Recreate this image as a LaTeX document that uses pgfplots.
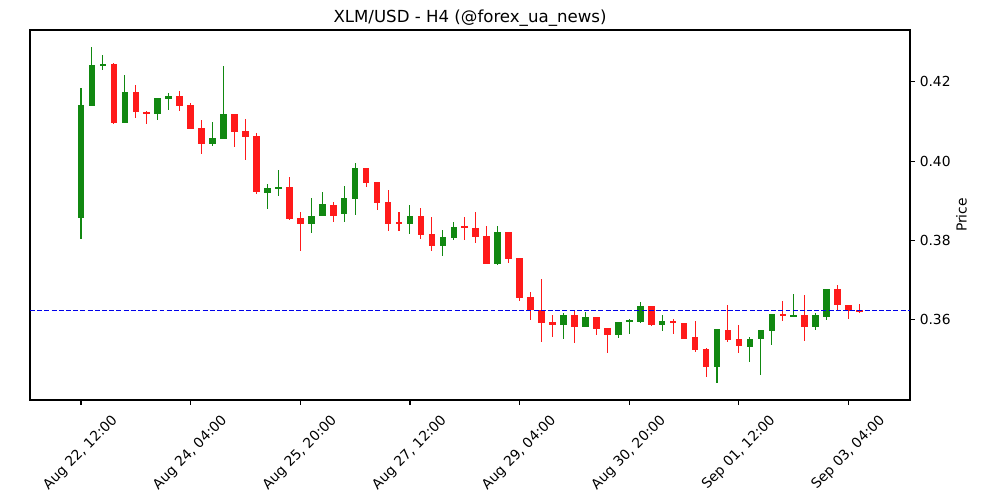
\documentclass[border=0pt]{standalone}
\usepackage{fontspec}
\setmainfont{DejaVu Sans}
\usepackage{pgfplots}
\pgfplotsset{compat=1.18}
\usepackage{pgfplotstable}
\definecolor{upc}{RGB}{17,136,17}
\definecolor{dnc}{RGB}{255,26,26}
\definecolor{lastc}{RGB}{0,0,235}

\pgfplotstableread{
X O H L C
0 0.3856 0.4184 0.3803 0.4142
1 0.4140 0.4287 0.4140 0.4243
2 0.4241 0.4267 0.4229 0.4245
4 0.4097 0.4217 0.4097 0.4175
7 0.4118 0.4160 0.4104 0.4160
8 0.4158 0.4172 0.4129 0.4165
12 0.4044 0.4098 0.4038 0.4059
13 0.4057 0.4240 0.4057 0.4119
17 0.3921 0.3942 0.3879 0.3933
18 0.3932 0.3978 0.3913 0.3934
21 0.3841 0.3907 0.3819 0.3862
22 0.3861 0.3922 0.3861 0.3892
24 0.3866 0.3937 0.3846 0.3908
25 0.3906 0.3996 0.3864 0.3983
30 0.3843 0.3889 0.3817 0.3862
33 0.3787 0.3826 0.3762 0.3809
34 0.3807 0.3847 0.3801 0.3834
38 0.3742 0.3836 0.3739 0.3822
44 0.3588 0.3617 0.3551 0.3612
46 0.3581 0.3620 0.3581 0.3607
49 0.3563 0.3595 0.3554 0.3595
50 0.3594 0.3602 0.3564 0.3598
51 0.3595 0.3645 0.3593 0.3635
53 0.3588 0.3612 0.3572 0.3597
58 0.3480 0.3577 0.3440 0.3577
61 0.3531 0.3556 0.3494 0.3553
62 0.3553 0.3575 0.3461 0.3575
63 0.3571 0.3615 0.3537 0.3615
65 0.3608 0.3665 0.3608 0.3612
67 0.3581 0.3618 0.3574 0.3612
68 0.3608 0.3678 0.3599 0.3678
}\uptable

\pgfplotstableread{
X O H L C
3 0.4245 0.4247 0.4093 0.4097
5 0.4175 0.4192 0.4108 0.4123
6 0.4124 0.4127 0.4093 0.4118
9 0.4165 0.4177 0.4126 0.4140
10 0.4142 0.4146 0.4082 0.4082
11 0.4084 0.4104 0.4019 0.4044
14 0.4119 0.4120 0.4037 0.4075
15 0.4076 0.4106 0.4003 0.4062
16 0.4064 0.4071 0.3917 0.3923
19 0.3935 0.3960 0.3851 0.3855
20 0.3857 0.3872 0.3774 0.3841
23 0.3890 0.3897 0.3846 0.3863
26 0.3983 0.3984 0.3936 0.3946
27 0.3948 0.3948 0.3876 0.3896
28 0.3897 0.3927 0.3824 0.3843
29 0.3845 0.3872 0.3824 0.3843
31 0.3862 0.3882 0.3803 0.3815
32 0.3817 0.3859 0.3773 0.3787
35 0.3834 0.3859 0.3801 0.3832
36 0.3832 0.3872 0.3793 0.3810
37 0.3812 0.3836 0.3740 0.3740
39 0.3822 0.3822 0.3743 0.3753
40 0.3755 0.3757 0.3647 0.3655
41 0.3657 0.3671 0.3599 0.3626
42 0.3626 0.3703 0.3545 0.3593
43 0.3595 0.3612 0.3558 0.3588
45 0.3612 0.3625 0.3541 0.3581
47 0.3607 0.3607 0.3561 0.3578
48 0.3580 0.3580 0.3516 0.3563
52 0.3635 0.3635 0.3585 0.3587
54 0.3597 0.3603 0.3565 0.3591
55 0.3592 0.3592 0.3553 0.3553
56 0.3557 0.3597 0.3519 0.3523
57 0.3527 0.3530 0.3456 0.3480
59 0.3575 0.3638 0.3545 0.3550
60 0.3553 0.3586 0.3516 0.3533
64 0.3615 0.3647 0.3597 0.3611
66 0.3612 0.3663 0.3548 0.3581
69 0.3678 0.3688 0.3623 0.3637
70 0.3638 0.3638 0.3602 0.3623
71 0.3624 0.3640 0.3617 0.3622
}\dntable

\begin{document}
\begin{tikzpicture}
\path[use as bounding box] (0,0) rectangle (25.4cm,12.7cm);
\begin{axis}[
  at={(0.762cm,2.54cm)}, anchor=south west,
  scale only axis, width=22.352cm, height=9.398cm,
  xmin=-4.65, xmax=75.6, ymin=0.3398, ymax=0.4331,
  xtick={0,10,...,70},
  xticklabels={{Aug 22, 12:00},{Aug 24, 04:00},{Aug 25, 20:00},{Aug 27, 12:00},{Aug 29, 04:00},{Aug 30, 20:00},{Sep 01, 12:00},{Sep 03, 04:00}},
  ytick={0.36,0.38,0.40,0.42},
  yticklabels={0.36,0.38,0.40,0.42},
  scaled y ticks=false,
  xtick pos=left, ytick pos=right,
  xticklabel pos=left, yticklabel pos=right,
  tick align=outside, major tick length=0.1235cm,
  tick style={black, line width=0.8pt},
  axis line style={line width=0.8pt},
  xticklabel style={xshift=0.75cm, yshift=-0.05cm, rotate=45, anchor=north east},
  ylabel={Price},
  ylabel shift=-0.1cm,
  title={XLM/USD - H4 (@forex\_ua\_news)},
  title style={font=\fontsize{12}{14}\selectfont, yshift=-0.25cm},
  tick label style={font=\fontsize{10}{12}\selectfont},
  label style={font=\fontsize{10}{12}\selectfont},
]
% wicks
\addplot[draw=none, mark=none, forget plot,
  error bars/.cd, y dir=both, y explicit, error mark=none,
  error bar style={draw=upc, solid, line width=0.75pt}]
  table[x=X, y expr={(\thisrow{H}+\thisrow{L})/2}, y error expr={(\thisrow{H}-\thisrow{L})/2}] {\uptable};
\addplot[draw=none, mark=none, forget plot,
  error bars/.cd, y dir=both, y explicit, error mark=none,
  error bar style={draw=dnc, solid, line width=0.75pt}]
  table[x=X, y expr={(\thisrow{H}+\thisrow{L})/2}, y error expr={(\thisrow{H}-\thisrow{L})/2}] {\dntable};
% bodies
\addplot[draw=none, mark=none, forget plot,
  error bars/.cd, y dir=both, y explicit, error mark=none,
  error bar style={draw=upc, solid, line width=0.168cm, line cap=butt}]
  table[x=X, y expr={(\thisrow{O}+\thisrow{C})/2}, y error expr={max(abs(\thisrow{C}-\thisrow{O})/2,0.00025)}] {\uptable};
\addplot[draw=none, mark=none, forget plot,
  error bars/.cd, y dir=both, y explicit, error mark=none,
  error bar style={draw=dnc, solid, line width=0.168cm, line cap=butt}]
  table[x=X, y expr={(\thisrow{O}+\thisrow{C})/2}, y error expr={max(abs(\thisrow{C}-\thisrow{O})/2,0.00025)}] {\dntable};
% last price line
\addplot[lastc, line width=0.75pt, dash pattern=on 3.6pt off 1.6pt] coordinates {(-4.65,0.3623) (75.6,0.3623)};
\end{axis}
\end{tikzpicture}
\end{document}
